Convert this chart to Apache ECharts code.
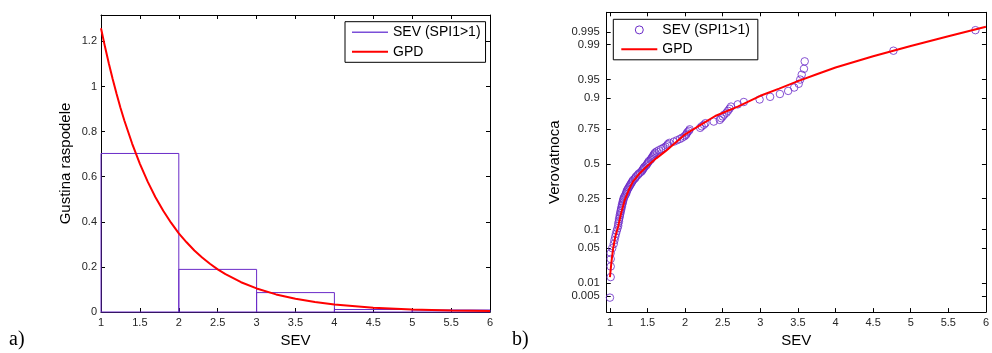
<!DOCTYPE html>
<html><head><meta charset="utf-8">
<script src="https://cdn.jsdelivr.net/npm/echarts@6/dist/echarts.min.js"></script>
<style>html,body{margin:0;padding:0;background:#fff}#c{width:992px;height:353px}</style>
</head><body><div id="c"></div>
<script>
// ---- Panel a) histogram (density) of SEV and fitted GPD pdf ----
const histEdges = [1, 2, 3, 4, 5, 6];
const histDensity = [0.703, 0.189, 0.086, 0.011, 0.009];
const pdfX = [1, 1.05, 1.1, 1.15, 1.2, 1.25, 1.3, 1.4, 1.5, 1.6, 1.7, 1.8, 1.9, 2.0, 2.1, 2.2, 2.3, 2.4, 2.5, 2.6, 2.8, 3.0, 3.25, 3.5, 3.75, 4.0, 4.5, 5.0, 5.5, 6.0];
const pdfY = [1.258, 1.178, 1.103, 1.033, 0.968, 0.906, 0.849, 0.747, 0.657, 0.578, 0.509, 0.449, 0.396, 0.349, 0.309, 0.273, 0.242, 0.214, 0.189, 0.168, 0.132, 0.1045, 0.078, 0.0586, 0.0441, 0.0334, 0.0193, 0.0113, 0.0067, 0.0040];
const leftXTicks = [1, 1.5, 2, 2.5, 3, 3.5, 4, 4.5, 5, 5.5, 6];
const leftYTicks = [0, 0.2, 0.4, 0.6, 0.8, 1, 1.2];

// ---- Panel b) normal probability plot of SEV with GPD fit ----
const sevSorted = [
  1.00, 1.01, 1.01, 1.01, 1.01, 1.03, 1.05, 1.06, 1.07, 1.08,
  1.09, 1.10, 1.11, 1.11, 1.12, 1.12, 1.13, 1.13, 1.14, 1.14,
  1.15, 1.15, 1.16, 1.16, 1.17, 1.17, 1.18, 1.18, 1.19, 1.20,
  1.21, 1.22, 1.22, 1.23, 1.24, 1.25, 1.26, 1.27, 1.28, 1.29,
  1.30, 1.31, 1.33, 1.34, 1.35, 1.37, 1.38, 1.40, 1.42, 1.43,
  1.44, 1.45, 1.46, 1.48, 1.49, 1.50, 1.51, 1.52, 1.54, 1.55,
  1.56, 1.57, 1.58, 1.59, 1.60, 1.62, 1.65, 1.68, 1.71, 1.74,
  1.76, 1.77, 1.79, 1.85, 1.89, 1.93, 1.96, 1.99, 2.01, 2.02,
  2.03, 2.05, 2.06, 2.20, 2.22, 2.25, 2.27, 2.38, 2.46, 2.48,
  2.50, 2.52, 2.55, 2.57, 2.59, 2.61, 2.70, 2.78, 2.99, 3.13,
  3.26, 3.37, 3.45, 3.51, 3.53, 3.55, 3.58, 3.59, 4.77, 5.86
];
const cdfX = [1.0, 1.02, 1.043, 1.07, 1.109, 1.15, 1.197, 1.25, 1.306, 1.4, 1.5, 1.62, 1.743, 1.87, 2.0, 2.2, 2.4, 2.7, 3.0, 3.25, 3.5, 3.75, 4.0, 4.5, 5.0, 5.5, 6.0];
const cdfP = [0.0136, 0.028, 0.05, 0.077, 0.111, 0.17, 0.241, 0.305, 0.365, 0.43, 0.485, 0.545, 0.60, 0.66, 0.718, 0.775, 0.825, 0.868, 0.908, 0.929, 0.9468, 0.9598, 0.9699, 0.9821, 0.9893, 0.9936, 0.99627];
const rightXTicks = [1, 1.5, 2, 2.5, 3, 3.5, 4, 4.5, 5, 5.5, 6];
const probTicks = [0.005, 0.01, 0.05, 0.1, 0.25, 0.5, 0.75, 0.9, 0.95, 0.99, 0.995];
const probTickLabels = ['0.005', '0.01', '0.05', '0.1', '0.25', '0.5', '0.75', '0.9', '0.95', '0.99', '0.995'];

// inverse standard normal CDF (probability-axis transform)
function norminv(p) {
  const a = [-3.969683028665376e+01, 2.209460984245205e+02, -2.759285104469687e+02, 1.383577518672690e+02, -3.066479806614716e+01, 2.506628277459239e+00];
  const b = [-5.447609879822406e+01, 1.615858368580409e+02, -1.556989798598866e+02, 6.680131188771972e+01, -1.328068155288572e+01];
  const c = [-7.784894002430293e-03, -3.223964580411365e-01, -2.400758277161838e+00, -2.549732539343734e+00, 4.374664141464968e+00, 2.938163982698783e+00];
  const d = [7.784695709041462e-03, 3.224671290700398e-01, 2.445134137142996e+00, 3.754408661907416e+00];
  const plow = 0.02425, phigh = 1 - plow;
  let q, r;
  if (p < plow) {
    q = Math.sqrt(-2 * Math.log(p));
    return (((((c[0]*q+c[1])*q+c[2])*q+c[3])*q+c[4])*q+c[5]) / ((((d[0]*q+d[1])*q+d[2])*q+d[3])*q+1);
  } else if (p <= phigh) {
    q = p - 0.5; r = q*q;
    return (((((a[0]*r+a[1])*r+a[2])*r+a[3])*r+a[4])*r+a[5])*q / (((((b[0]*r+b[1])*r+b[2])*r+b[3])*r+b[4])*r+1);
  } else {
    q = Math.sqrt(-2 * Math.log(1 - p));
    return -(((((c[0]*q+c[1])*q+c[2])*q+c[3])*q+c[4])*q+c[5]) / ((((d[0]*q+d[1])*q+d[2])*q+d[3])*q+1);
  }
}

const FONT = '"Liberation Sans", Arial, sans-serif';
const PURPLE = '#6a2bc8';
const RED = '#ff0000';
const LABEL_COLOR = '#262626';
const CLEAR = 'rgba(0,0,0,0)';

const n = sevSorted.length;
const scatterData = sevSorted.map((v, i) => [v, norminv((i + 0.5) / n)]);
const cdfData = cdfX.map((x, i) => [x, norminv(cdfP[i])]);
const pdfData = pdfX.map((x, i) => [x, pdfY[i]]);
const histData = histDensity.map((h, i) => [histEdges[i], histEdges[i + 1], h]);
const probTickPos = probTicks.map(norminv);

function axisBase(extra) {
  return Object.assign({
    type: 'value',
    axisLine: { show: true, onZero: false, lineStyle: { color: '#000', width: 1 } },
    splitLine: { show: false },
    axisTick: { show: true, inside: true, length: 4, lineStyle: { color: '#000' } },
    axisLabel: { color: LABEL_COLOR, fontFamily: FONT, fontSize: 11 },
    nameTextStyle: { color: '#000', fontFamily: FONT, fontSize: 15 }
  }, extra);
}
function ticks(vals) {
  return { show: true, inside: true, length: 4, customValues: vals, lineStyle: { color: '#000' } };
}

const chart = echarts.init(document.getElementById('c'), null, { renderer: 'canvas' });

const option = {
  animation: false,
  backgroundColor: '#fff',
  grid: [
    { left: 101, top: 15, width: 389, height: 297 },
    { left: 606.7, top: 12.3, width: 385, height: 300 }
  ],
  xAxis: [
    axisBase({ gridIndex: 0, min: 1, max: 6, position: 'bottom', name: 'SEV', nameLocation: 'middle', nameGap: 18,
      axisTick: ticks(leftXTicks),
      axisLabel: { color: LABEL_COLOR, fontFamily: FONT, fontSize: 11, margin: 5, customValues: leftXTicks } }),
    axisBase({ gridIndex: 0, min: 1, max: 6, position: 'top', axisTick: ticks(leftXTicks), axisLabel: { show: false } }),
    axisBase({ gridIndex: 1, min: 0.9568, max: 6, position: 'bottom', name: 'SEV', nameLocation: 'middle', nameGap: 18,
      axisTick: ticks(rightXTicks),
      axisLabel: { color: LABEL_COLOR, fontFamily: FONT, fontSize: 11, margin: 5, customValues: rightXTicks } }),
    axisBase({ gridIndex: 1, min: 0.9568, max: 6, position: 'top', axisTick: ticks(rightXTicks), axisLabel: { show: false } })
  ],
  yAxis: [
    axisBase({ gridIndex: 0, min: 0, max: 1.317, position: 'left', name: 'Gustina raspodele', nameLocation: 'middle', nameGap: 28,
      axisTick: ticks(leftYTicks),
      axisLabel: { color: LABEL_COLOR, fontFamily: FONT, fontSize: 11, margin: 4, customValues: leftYTicks } }),
    axisBase({ gridIndex: 0, min: 0, max: 1.317, position: 'right', axisTick: ticks(leftYTicks), axisLabel: { show: false } }),
    axisBase({ gridIndex: 1, min: -2.891, max: 2.957, position: 'left', name: 'Verovatnoca', nameLocation: 'middle', nameGap: 44,
      axisTick: ticks(probTickPos),
      axisLabel: { color: LABEL_COLOR, fontFamily: FONT, fontSize: 11.3, margin: 7, customValues: probTickPos,
        formatter: function (v) {
          for (let i = 0; i < probTickPos.length; i++) if (Math.abs(probTickPos[i] - v) < 1e-6) return probTickLabels[i];
          return '';
        } } }),
    axisBase({ gridIndex: 1, min: -2.891, max: 2.957, position: 'right', axisTick: ticks(probTickPos), axisLabel: { show: false } })
  ],
  legend: [
    {
      left: 345, top: 21.7, orient: 'vertical',
      padding: [2.6, 5, 2.6, 7], itemGap: 3.4, itemWidth: 36, itemHeight: 2,
      borderColor: '#000', borderWidth: 1, backgroundColor: '#fff',
      selectedMode: false,
      textStyle: { color: '#000', fontFamily: FONT, fontSize: 14, lineHeight: 16 },
      data: [
        { name: 'SEV (SPI1>1)', icon: 'path://M0,0.25H36V1.75H0Z', itemStyle: { color: '#7b4fd8' } },
        { name: 'GPD', icon: 'rect', itemStyle: { color: RED } }
      ]
    },
    {
      left: 613.3, top: 19.3, orient: 'vertical',
      padding: [2.6, 8, 2.6, 7], itemGap: 3.3, itemWidth: 36, itemHeight: 8,
      borderColor: '#000', borderWidth: 1, backgroundColor: '#fff',
      selectedMode: false,
      textStyle: { color: '#000', fontFamily: FONT, fontSize: 14, lineHeight: 16 },
      data: [
        { name: 'SEV (SPI1>1)', icon: 'circle', itemStyle: { color: CLEAR, borderColor: PURPLE, borderWidth: 1 } },
        { name: 'GPD', itemStyle: { color: CLEAR, opacity: 0, borderWidth: 0 } }
      ]
    }
  ],
  series: [
    {
      name: 'SEV (SPI1>1)', type: 'custom', xAxisIndex: 0, yAxisIndex: 0,
      encode: { x: [0, 1], y: 2 },
      data: histData,
      itemStyle: { color: PURPLE },
      renderItem: function (params, api) {
        const p0 = api.coord([api.value(0), 0]);
        const p1 = api.coord([api.value(1), api.value(2)]);
        return {
          type: 'rect',
          shape: { x: p0[0], y: p1[1], width: p1[0] - p0[0], height: p0[1] - p1[1] },
          style: { fill: 'none', stroke: PURPLE, lineWidth: 1 }
        };
      },
      z: 2
    },
    {
      name: 'GPD', type: 'line', xAxisIndex: 0, yAxisIndex: 0,
      data: pdfData, symbol: 'none', smooth: false,
      lineStyle: { color: RED, width: 2 }, itemStyle: { color: RED }, z: 3
    },
    {
      name: 'SEV (SPI1>1)', type: 'scatter', xAxisIndex: 2, yAxisIndex: 2,
      data: scatterData, symbol: 'circle', symbolSize: 7.5,
      itemStyle: { color: CLEAR, borderColor: PURPLE, borderWidth: 1 }, z: 2
    },
    {
      name: 'GPD', type: 'line', xAxisIndex: 2, yAxisIndex: 2,
      data: cdfData, symbol: 'none', smooth: false,
      lineStyle: { color: RED, width: 2 }, itemStyle: { color: RED }, z: 3
    }
  ],
  graphic: [
    { type: 'text', left: 9, top: 330, style: { text: 'a)', font: '20px "Liberation Serif", "Times New Roman", serif', fill: '#000' } },
    { type: 'text', left: 512, top: 330, style: { text: 'b)', font: '20px "Liberation Serif", "Times New Roman", serif', fill: '#000' } }
  ]
};
chart.setOption(option);
</script>
</body></html>
